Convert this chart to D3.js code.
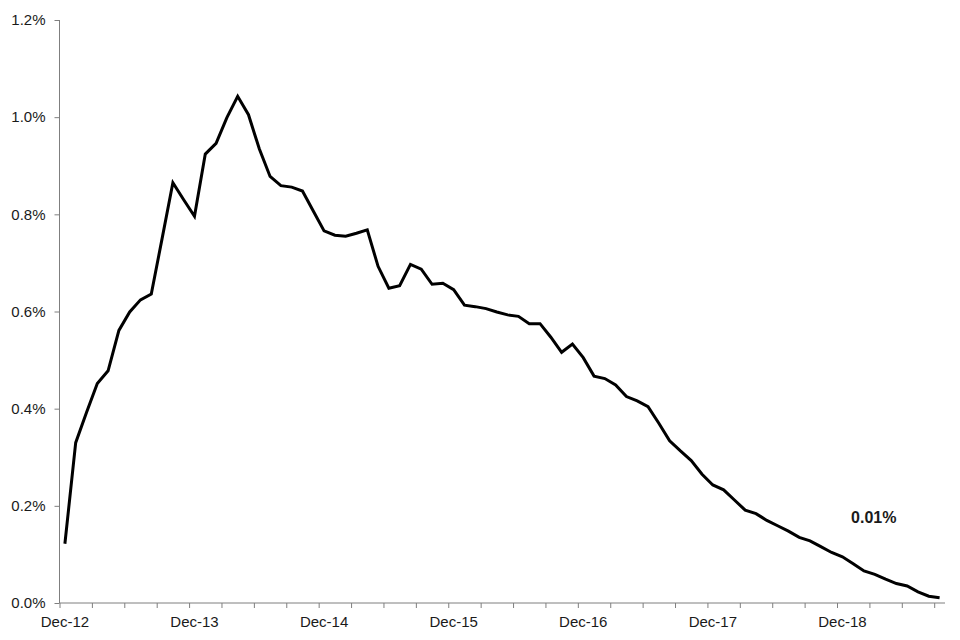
<!DOCTYPE html>
<html>
<head>
<meta charset="utf-8">
<script src="https://cdn.jsdelivr.net/npm/d3@7"></script>
<style>
  html, body { margin: 0; padding: 0; background: #fff; }
  svg { display: block; }
  text { font-family: "Liberation Sans", Arial, sans-serif; }
</style>
</head>
<body>
<svg id="chart" width="960" height="640"></svg>
<script>
// Monthly series, Dec-12 .. Sep-19 (percent)
const values = [
  0.122, 0.330, 0.392, 0.452, 0.478, 0.561, 0.599, 0.624, 0.636, 0.750,
  0.865, 0.830, 0.796, 0.924, 0.946, 0.999, 1.043, 1.005, 0.935, 0.878,
  0.859, 0.856, 0.848, 0.807, 0.766, 0.757, 0.755, 0.761, 0.768, 0.693,
  0.648, 0.653, 0.697, 0.687, 0.656, 0.658, 0.645, 0.613, 0.610, 0.606,
  0.599, 0.593, 0.590, 0.575, 0.575, 0.547, 0.516, 0.533, 0.505, 0.467,
  0.462, 0.449, 0.425, 0.416, 0.404, 0.370, 0.334, 0.313, 0.293, 0.265,
  0.243, 0.233, 0.212, 0.191, 0.184, 0.170, 0.159, 0.148, 0.135, 0.128,
  0.116, 0.104, 0.095, 0.081, 0.066, 0.059, 0.049, 0.040, 0.035, 0.023,
  0.014, 0.011
];
const xTickLabels = ["Dec-12", "Dec-13", "Dec-14", "Dec-15", "Dec-16", "Dec-17", "Dec-18"];
const yTicks = [0, 0.2, 0.4, 0.6, 0.8, 1.0, 1.2];
const annotation = "0.01%";

(function () {
  const svg = d3.select("#chart");
  const mLeft = 59.5, mRight = 945, mTop = 20, mBottom = 603;
  const nMonths = values.length;

  const x = d3.scaleLinear().domain([0, nMonths]).range([mLeft, mRight]);
  const y = d3.scaleLinear().domain([0, 1.2]).range([mBottom, mTop]);

  const axisColor = "#7f7f7f";
  const textColor = "#1a1a1a";

  // Y axis
  const yAxis = d3.axisLeft(y).tickValues(yTicks).tickSize(5).tickPadding(9)
    .tickFormat(d => d3.format(".1f")(d) + "%");
  const gy = svg.append("g").attr("transform", `translate(${mLeft},0)`).call(yAxis);
  gy.select(".domain").attr("stroke", axisColor).attr("d", `M0,${mTop}V${mBottom}`);
  gy.selectAll(".tick line").attr("stroke", axisColor);
  gy.selectAll(".tick text").attr("fill", textColor).style("font-size", "15px")
    .style("font-family", "'Liberation Sans', Arial, sans-serif");

  // X axis: minor ticks every 3 months, labels every 12 months centred on the month
  const tickIdx = d3.range(0, nMonths, 3);
  const xAxis = d3.axisBottom(x).tickValues(tickIdx).tickSize(5).tickFormat("");
  const gx = svg.append("g").attr("transform", `translate(0,${mBottom})`).call(xAxis);
  gx.select(".domain").attr("stroke", axisColor).attr("d", `M${mLeft},0H${mRight}`);
  gx.selectAll(".tick line").attr("stroke", axisColor);

  svg.append("g").selectAll("text")
    .data(xTickLabels)
    .join("text")
    .attr("x", (d, i) => x(i * 12 + 0.5))
    .attr("y", mBottom + 24)
    .attr("text-anchor", "middle")
    .attr("fill", textColor)
    .style("font-size", "15px")
    .text(d => d);

  // Line
  const line = d3.line()
    .x((d, i) => x(i + 0.5))
    .y(d => y(d));

  svg.append("path")
    .datum(values)
    .attr("fill", "none")
    .attr("stroke", "#000")
    .attr("stroke-width", 3)
    .attr("stroke-linejoin", "miter")
    .attr("d", line);

  // Annotation
  svg.append("text")
    .attr("x", x(75.4))
    .attr("y", y(0.165))
    .attr("text-anchor", "middle")
    .attr("fill", textColor)
    .style("font-size", "16px")
    .style("font-weight", "bold")
    .text(annotation);
})();
</script>
</body>
</html>
